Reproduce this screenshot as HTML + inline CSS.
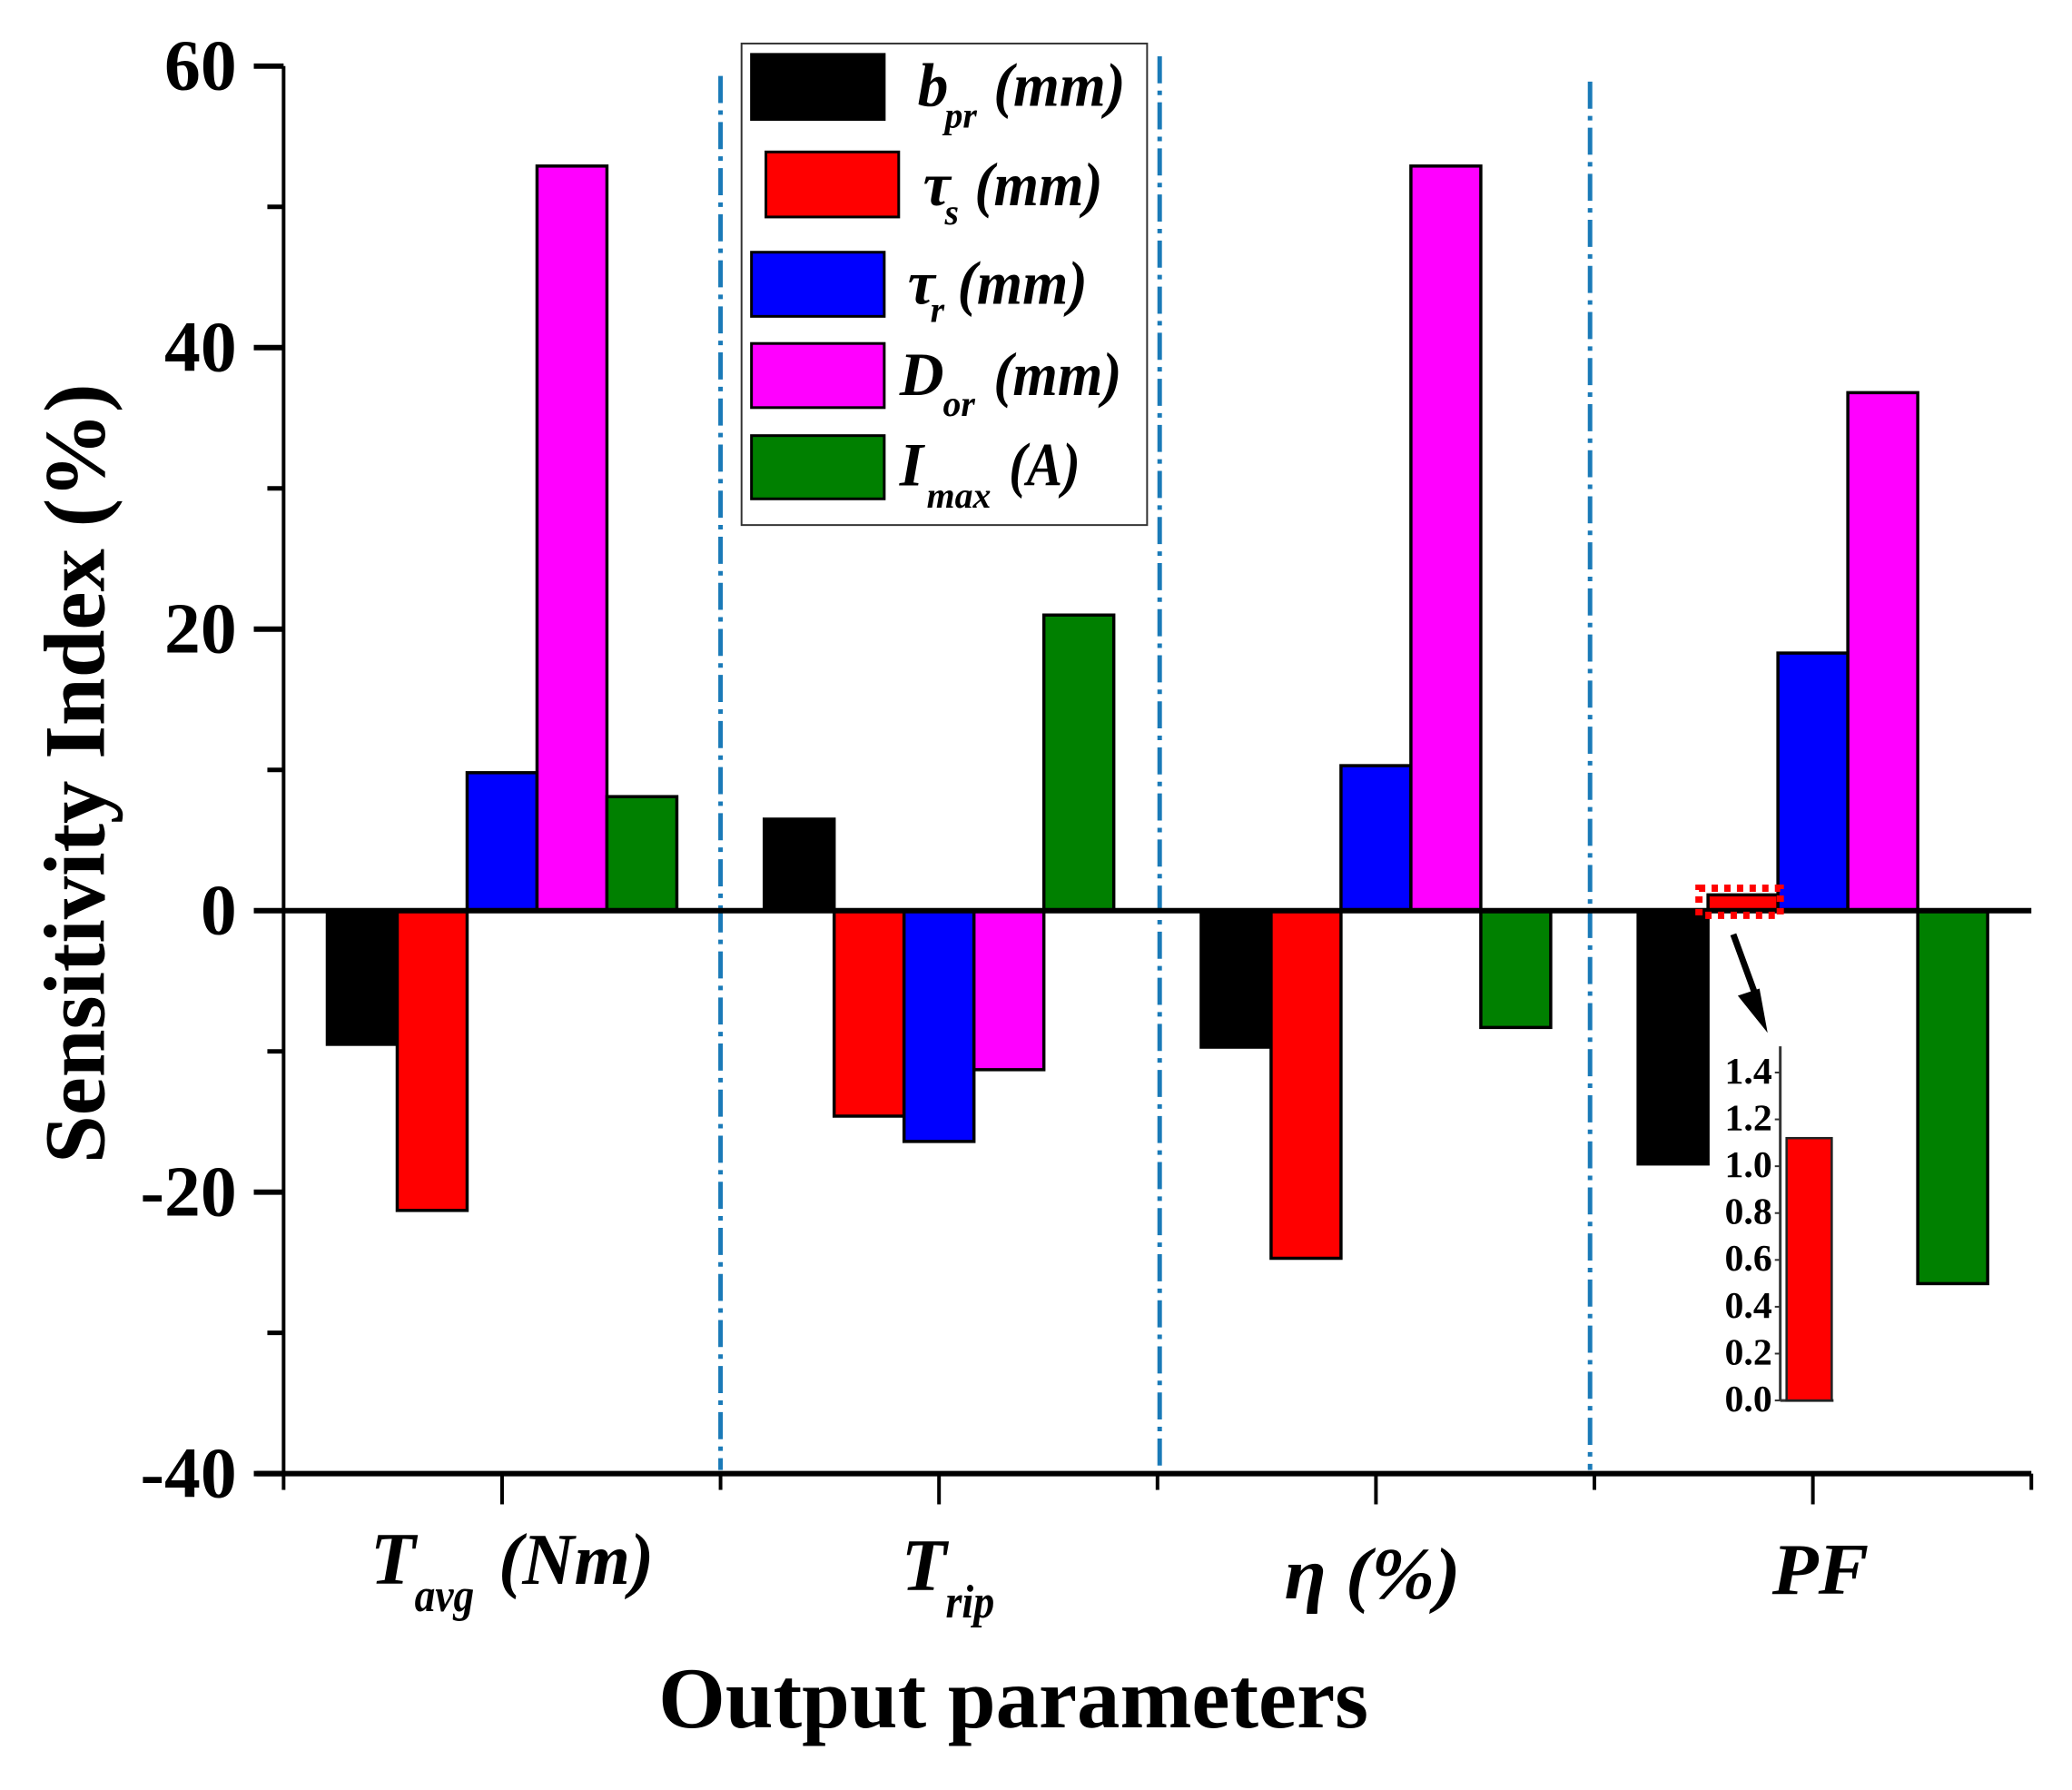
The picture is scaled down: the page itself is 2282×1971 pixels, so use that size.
<!DOCTYPE html>
<html>
<head>
<meta charset="utf-8">
<title>Sensitivity Index chart</title>
<style>
html,body{margin:0;padding:0;background:#fff;}
svg{display:block;}
text{font-family:"Liberation Serif",serif;font-weight:bold;fill:#000;}
.it{font-style:italic;}
</style>
</head>
<body>
<svg id="chart" xmlns="http://www.w3.org/2000/svg" width="2282" height="1971" viewBox="0 0 2294 1981">
  <rect x="0" y="0" width="2294" height="1981" fill="#fff"/>
  <g id="bars"></g>
  <g id="dividers"></g>
  <g id="axes"></g>

  <text transform="translate(115,856) rotate(-90)" text-anchor="middle" font-size="96" textLength="863" lengthAdjust="spacingAndGlyphs">Sensitivity Index (%)</text>
  <text x="1122" y="1912" text-anchor="middle" font-size="96" textLength="786" lengthAdjust="spacingAndGlyphs">Output parameters</text>

  <g class="it">
    <text class="it" x="410" y="1753" font-size="82" textLength="50" lengthAdjust="spacingAndGlyphs">T</text>
    <text class="it" x="459" y="1783" font-size="52" textLength="66" lengthAdjust="spacingAndGlyphs">avg</text>
    <text class="it" x="552" y="1753" font-size="81" textLength="172" lengthAdjust="spacingAndGlyphs">(Nm)</text>
    <text class="it" x="998" y="1760" font-size="82" textLength="50" lengthAdjust="spacingAndGlyphs">T</text>
    <text class="it" x="1047" y="1790" font-size="52" textLength="54" lengthAdjust="spacingAndGlyphs">rip</text>
    <text class="it" x="1422" y="1769" font-size="81" textLength="195" lengthAdjust="spacingAndGlyphs">η (%)</text>
    <text class="it" x="1962" y="1764" font-size="81" textLength="107" lengthAdjust="spacingAndGlyphs">PF</text>
  </g>

  <g>
    <rect x="821" y="48" width="449" height="533" fill="#fff" stroke="#333" stroke-width="2"/>
    <rect x="832" y="60" width="147" height="72" fill="#000" stroke="#000" stroke-width="3"/>
    <text class="it" x="1016" y="117" font-size="68">b</text>
    <text class="it" x="1046" y="141" font-size="40">pr</text>
    <text class="it" x="1100" y="117" font-size="68" textLength="146" lengthAdjust="spacingAndGlyphs">(mm)</text>

    <rect x="848" y="168" width="147" height="72" fill="#f00" stroke="#000" stroke-width="3"/>
    <text class="it" x="1022" y="227" font-size="68">τ</text>
    <text class="it" x="1046" y="248" font-size="40">s</text>
    <text class="it" x="1079" y="227" font-size="68" textLength="142" lengthAdjust="spacingAndGlyphs">(mm)</text>

    <rect x="832" y="279" width="147" height="71" fill="#00f" stroke="#000" stroke-width="3"/>
    <text class="it" x="1005" y="336" font-size="68">τ</text>
    <text class="it" x="1030" y="356" font-size="40">r</text>
    <text class="it" x="1060" y="336" font-size="68" textLength="144" lengthAdjust="spacingAndGlyphs">(mm)</text>

    <rect x="832" y="380" width="147" height="71" fill="#f0f" stroke="#000" stroke-width="3"/>
    <text class="it" x="996" y="437" font-size="68">D</text>
    <text class="it" x="1044" y="460" font-size="40">or</text>
    <text class="it" x="1100" y="437" font-size="68" textLength="142" lengthAdjust="spacingAndGlyphs">(mm)</text>

    <rect x="832" y="482" width="147" height="70" fill="#008000" stroke="#000" stroke-width="3"/>
    <text class="it" x="996" y="537" font-size="68">I</text>
    <text class="it" x="1026" y="562" font-size="40">max</text>
    <text class="it" x="1117" y="537" font-size="68" textLength="79" lengthAdjust="spacingAndGlyphs">(A)</text>
  </g>

  <g>
    <rect x="1881" y="983" width="90" height="30" fill="none" stroke="#f00" stroke-width="8" stroke-dasharray="7 7"/>
    <line x1="1919" y1="1034" x2="1945" y2="1105" stroke="#000" stroke-width="7"/>
    <polygon points="1924,1102 1948,1094 1957,1143" fill="#000"/>
  </g>
  <g id="inset"></g>
</svg>
<script>
// Chart data
var categories = ["Tavg", "Trip", "eta", "PF"];
var seriesNames = ["bpr", "tau-s", "tau-r", "dor", "imax"];
var bprValues = [-9.5, 6.5, -9.7, -18.0];
var tauSValues = [-21.3, -14.6, -24.7, 1.12];
var tauRValues = [9.8, -16.4, 10.3, 18.3];
var dorValues = [52.9, -11.3, 52.9, 36.8];
var imaxValues = [8.1, 21.0, -8.3, -26.5];
var yMajorTicks = [60, 40, 20, 0, -20, -40];
var yMinorTicks = [50, 30, 10, -10, -30];
var dividerPositions = [1, 2.005, 2.99];
var insetTicks = [0, 0.2, 0.4, 0.6, 0.8, 1.0, 1.2, 1.4];
var insetValues = [1.12];

var seriesValues = [bprValues, tauSValues, tauRValues, dorValues, imaxValues];
var seriesColors = ["#000000", "#ff0000", "#0000ff", "#ff00ff", "#008000"];
var dividerTopValues = [59.3, 60.7, 58.9];

var NS = "http://www.w3.org/2000/svg";
var plot = {left: 314, right: 2249, top: 73, bottom: 1631, yMin: -40, yMax: 60};
var bandWidth = (plot.right - plot.left) / categories.length;
var barWidth = bandWidth * 0.8 / seriesNames.length;

function yScale(v) {
  return plot.bottom - (v - plot.yMin) / (plot.yMax - plot.yMin) * (plot.bottom - plot.top);
}
function xCenter(i) {
  return plot.left + bandWidth * (i + 0.5);
}
function xEdge(i) {
  return plot.left + bandWidth * i;
}
function insetY(v) {
  return 1550 - v / 1.4 * (1550 - 1187);
}
function make(tag, attrs, parent) {
  var el = document.createElementNS(NS, tag);
  for (var k in attrs) { el.setAttribute(k, attrs[k]); }
  parent.appendChild(el);
  return el;
}

var barsG = document.getElementById("bars");
seriesValues.forEach(function (vals, s) {
  vals.forEach(function (v, c) {
    var x = xCenter(c) + (s - seriesNames.length / 2) * barWidth;
    var y0 = yScale(0), y1 = yScale(v);
    var bar = make("rect", {x: x, y: Math.min(y0, y1), width: barWidth, height: Math.abs(y1 - y0), fill: seriesColors[s], stroke: "#000", "stroke-width": 3.5}, barsG);
    
    
  });
});

var divG = document.getElementById("dividers");
dividerPositions.forEach(function (p, i) {
  var x = xEdge(p);
  var line = make("line", {x1: x, y1: yScale(dividerTopValues[i]), x2: x, y2: plot.bottom - 4, stroke: "#1a7ab8", "stroke-width": 5, "stroke-dasharray": "30 8 5 8"}, divG);
  
  
});

var axG = document.getElementById("axes");
var yAxisLine = make("line", {x1: plot.left, y1: plot.top, x2: plot.left, y2: plot.bottom, stroke: "#000", "stroke-width": 4}, axG);


var xAxisLine = make("line", {x1: plot.left - 30, y1: plot.bottom, x2: plot.right, y2: plot.bottom, stroke: "#000", "stroke-width": 6}, axG);


var zeroLine = make("line", {x1: plot.left, y1: yScale(0), x2: plot.right, y2: yScale(0), stroke: "#000", "stroke-width": 6}, axG);



yMajorTicks.forEach(function (t) {
  var y = yScale(t);
  var tick = make("line", {x1: plot.left - 33, y1: y, x2: plot.left, y2: y, stroke: "#000", "stroke-width": 6}, axG);
  
  
  var label = make("text", {x: 262, y: y + 26, "text-anchor": "end", "font-size": 80}, axG);
  label.textContent = String(t);
  
  
});
yMinorTicks.forEach(function (t) {
  var y = yScale(t);
  var tick = make("line", {x1: plot.left - 18, y1: y, x2: plot.left, y2: y, stroke: "#000", "stroke-width": 5}, axG);
  
  
});
categories.forEach(function (c, i) {
  var tick = make("line", {x1: xCenter(i), y1: plot.bottom, x2: xCenter(i), y2: plot.bottom + 34, stroke: "#000", "stroke-width": 4}, axG);
  
  
});
for (var e = 0; e <= categories.length; e++) {
  var minor = make("line", {x1: xEdge(e), y1: plot.bottom, x2: xEdge(e), y2: plot.bottom + 18, stroke: "#000", "stroke-width": 4}, axG);
  
  
}

var insetG = document.getElementById("inset");
var insetAxis = make("line", {x1: 1971, y1: 1158, x2: 1971, y2: insetY(0), stroke: "#333", "stroke-width": 3}, insetG);


var insetBase = make("line", {x1: 1971, y1: insetY(0), x2: 2030, y2: insetY(0), stroke: "#333", "stroke-width": 3}, insetG);


insetTicks.forEach(function (t) {
  var y = insetY(t);
  var tick = make("line", {x1: 1965, y1: y, x2: 1971, y2: y, stroke: "#333", "stroke-width": 2}, insetG);
  
  
  var label = make("text", {x: 1962, y: y + 12, "text-anchor": "end", "font-size": 42}, insetG);
  label.textContent = t.toFixed(1);
  
  
});
insetValues.forEach(function (v) {
  var bar = make("rect", {x: 1978, y: insetY(v), width: 50, height: insetY(0) - insetY(v), fill: "#f00", stroke: "#222", "stroke-width": 2.5}, insetG);
  
  
});
</script>
</body>
</html>
